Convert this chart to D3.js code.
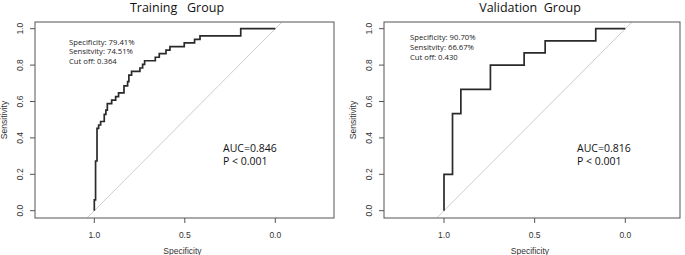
<!DOCTYPE html>
<html>
<head>
<meta charset="utf-8">
<script src="https://cdn.jsdelivr.net/npm/d3@7"></script>
<style>
  html, body { margin: 0; padding: 0; background: #fff; }
  svg { display: block; }
</style>
</head>
<body>
<div id="chart"></div>
<script>
// ROC corner points (end of each horizontal run)
const trainSpec = [1.0, 0.993, 0.985, 0.976, 0.965, 0.945, 0.936, 0.928, 0.904, 0.882, 0.866, 0.836, 0.816, 0.809, 0.794, 0.748, 0.733, 0.722, 0.663, 0.641, 0.604, 0.582, 0.503, 0.446, 0.416, 0.191, 0.0];
const trainSens = [0.0, 0.059, 0.273, 0.452, 0.471, 0.49, 0.529, 0.553, 0.588, 0.608, 0.627, 0.647, 0.686, 0.709, 0.745, 0.765, 0.784, 0.804, 0.824, 0.843, 0.863, 0.882, 0.902, 0.922, 0.941, 0.961, 1.0];

const validSpec = [1.0, 0.953, 0.907, 0.744, 0.558, 0.442, 0.163, 0.0];
const validSens = [0.0, 0.2, 0.533, 0.667, 0.8, 0.867, 0.933, 1.0];

const xTicks = [1.0, 0.5, 0.0];
const yTicks = [0.0, 0.2, 0.4, 0.6, 0.8, 1.0];

const titles = ["Training   Group", "Validation  Group"];
const infoLines = [
  ["Specificity: 79.41%", "Sensitvity: 74.51%", "Cut off: 0.364"],
  ["Specificity: 90.70%", "Sensitvity: 66.67%", "Cut off: 0.430"]
];
const aucLines = [
  ["AUC=0.846", "P < 0.001"],
  ["AUC=0.816", "P < 0.001"]
];

const width = 685;
const height = 255;

const svg = d3.select("#chart")
  .append("svg")
  .attr("width", width)
  .attr("height", height);

const axisFont = "'Liberation Sans', Arial, sans-serif";
const textFont = "'Open Sans', 'Noto Sans', sans-serif";

function drawPanel(i, box, x1px, x0px, spec, sens, infoY) {
  // scales: specificity runs 1 -> 0 left to right
  const x = d3.scaleLinear().domain([1, 0]).range([x1px, x0px]);
  const y = d3.scaleLinear().domain([0, 1]).range([210.7, 28.7]);

  const g = svg.append("g");

  const clipId = "clip" + i;
  svg.append("defs").append("clipPath").attr("id", clipId)
    .append("rect")
    .attr("x", box.left).attr("y", box.top)
    .attr("width", box.right - box.left).attr("height", box.bottom - box.top);

  // diagonal reference
  g.append("line")
    .attr("clip-path", `url(#${clipId})`)
    .attr("x1", x(1.1)).attr("y1", y(-0.1))
    .attr("x2", x(-0.1)).attr("y2", y(1.1))
    .attr("stroke", "#cdcdcd")
    .attr("stroke-width", 1);

  // roc curve
  const line = d3.line()
    .x((d) => x(d[0]))
    .y((d) => y(d[1]))
    .curve(d3.curveStepBefore);
  g.append("path")
    .datum(spec.map((s, k) => [s, sens[k]]))
    .attr("d", line)
    .attr("fill", "none")
    .attr("stroke", "#2a2a2a")
    .attr("stroke-width", 1.7);

  // frame
  g.append("rect")
    .attr("x", box.left).attr("y", box.top)
    .attr("width", box.right - box.left).attr("height", box.bottom - box.top)
    .attr("fill", "none")
    .attr("stroke", "#555")
    .attr("stroke-width", 1);

  // x axis ticks
  xTicks.forEach((t) => {
    g.append("line")
      .attr("x1", x(t)).attr("x2", x(t))
      .attr("y1", box.bottom).attr("y2", box.bottom + 5)
      .attr("stroke", "#555");
    g.append("text")
      .attr("x", x(t)).attr("y", 237.5)
      .attr("text-anchor", "middle")
      .attr("font-family", axisFont)
      .attr("font-size", "8.5px")
      .attr("fill", "#333")
      .text(t.toFixed(1));
  });

  // y axis ticks
  yTicks.forEach((t) => {
    g.append("line")
      .attr("x1", box.left - 5).attr("x2", box.left)
      .attr("y1", y(t)).attr("y2", y(t))
      .attr("stroke", "#555");
    g.append("text")
      .attr("transform", `translate(${box.left - 12},${y(t)}) rotate(-90)`)
      .attr("text-anchor", "middle")
      .attr("font-family", axisFont)
      .attr("font-size", "8.5px")
      .attr("fill", "#333")
      .text(t.toFixed(1));
  });

  // axis titles
  g.append("text")
    .attr("x", (box.left + box.right) / 2 - 2).attr("y", 253.5)
    .attr("text-anchor", "middle")
    .attr("font-family", axisFont)
    .attr("font-size", "8.5px")
    .attr("fill", "#333")
    .text("Specificity");
  g.append("text")
    .attr("transform", `translate(${box.left - 28},${(box.top + box.bottom) / 2}) rotate(-90)`)
    .attr("text-anchor", "middle")
    .attr("font-family", axisFont)
    .attr("font-size", "8.5px")
    .attr("fill", "#333")
    .text("Sensitivity");

  // title
  g.append("text")
    .attr("x", box.titleX).attr("y", 11.5)
    .attr("text-anchor", "middle")
    .attr("font-family", textFont)
    .attr("font-size", "12.5px")
    .attr("fill", "#111")
    .style("white-space", "pre")
    .text(titles[i]);

  // cut-off info
  infoLines[i].forEach((s, k) => {
    g.append("text")
      .attr("x", box.infoX).attr("y", infoY + k * 9.8)
      .attr("font-family", textFont)
      .attr("font-size", "7.7px")
      .attr("fill", "#222")
      .text(s);
  });

  aucLines[i].forEach((s, k) => {
    g.append("text")
      .attr("x", box.aucX).attr("y", 151.5 + k * 13.8)
      .attr("font-family", textFont)
      .attr("font-size", "10.5px")
      .attr("fill", "#111")
      .text(s);
  });
}

drawPanel(0, { left: 35, right: 334, top: 22, bottom: 218, titleX: 177, infoX: 69, aucX: 223 },
  94.3, 275.3, trainSpec, trainSens, 44.5);
drawPanel(1, { left: 384, right: 680, top: 22, bottom: 218, titleX: 530, infoX: 410, aucX: 577 },
  444, 625.3, validSpec, validSens, 40.3);
</script>
</body>
</html>
